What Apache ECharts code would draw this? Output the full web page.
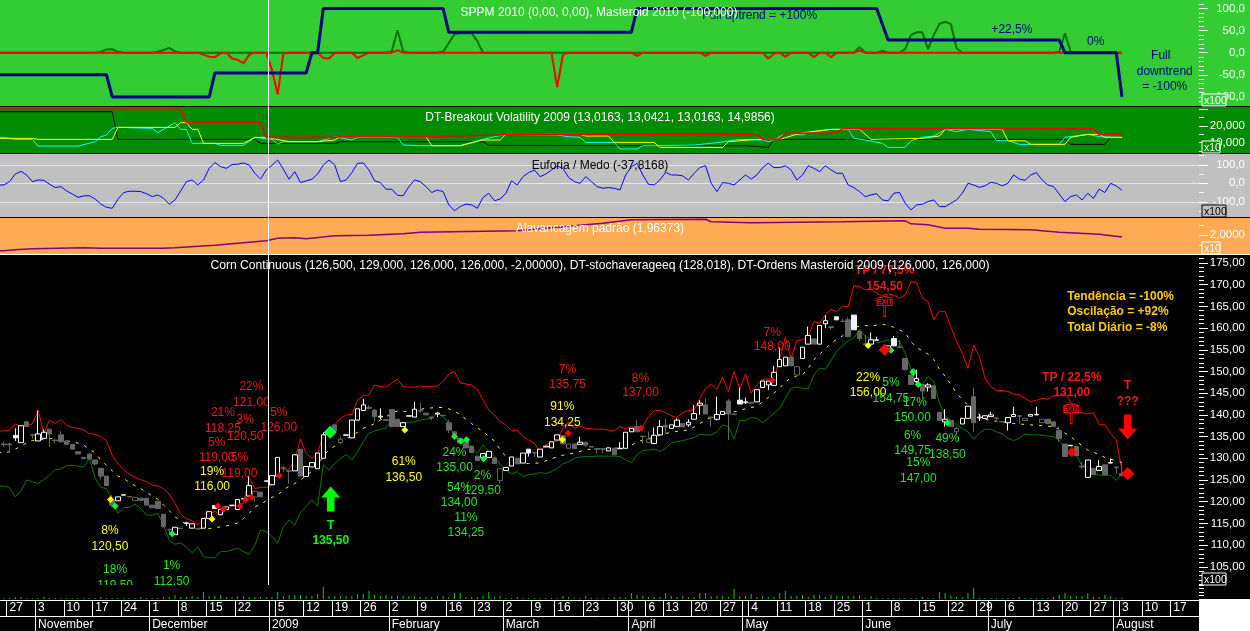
<!DOCTYPE html>
<html><head><meta charset="utf-8">
<style>html,body{margin:0;padding:0;background:#000}#c{width:1250px;height:631px}</style>
<script src="https://cdn.jsdelivr.net/npm/echarts@6/dist/echarts.min.js"></script>
</head><body><div id="c"></div>
<script>
const sessions = Array.from({length:211},(_,i)=>String(i-1));
const weekStarts=[1,6,11,16,21,26,31,36,41,48,53,58,63,68,73,78,83,88,93,97,102,108,113,116,121,126,131,136,141,146,151,156,161,166,171,176,181,186,191,196,200,205];
const weekLabels=['27','3','10','17','24','1','8','15','22','5','12','19','26','2','9','16','23','2','9','16','23','30','6','13','20','27','4','11','18','25','1','8','15','22','29','6','13','20','27','3','10','17'];
const monthStarts=[6,26,47,68,88,110,130,151,173,195];
const monthLabels=['November','December','2009','February','March','April','May','June','July','August'];
const sppmTicks=[-100,-50,0,50,100], sppmMinor=[-110,-90,-80,-70,-60,-40,-30,-20,-10,10,20,30,40,60,70,80,90,110];
const volTicks=[10,20,30], volLabels=[10,20], volMinor=[5,15,25];
const euphTicks=[-100,0,100], euphMinor=[-150,-50,50,150];
const levTicks=[2], levMinor=[1.8,2.2];
const priceTicks=[105,110,115,120,125,130,135,140,145,150,155,160,165,170,175];
const priceMinor=[101,102,103,104,106,107,108,109,111,112,113,114,116,117,118,119,121,122,123,124,126,127,128,129,131,132,133,134,136,137,138,139,141,142,143,144,146,147,148,149,151,152,153,154,156,157,158,159,161,162,163,164,166,167,168,169,171,172,173,174,176];

// [open, close, low, high]; low and high default to the body
const candles=[[133.3,133.1,132.6,133.8],[133.3,133.1,131.5,133.6],[134.7,135.3,134,136.9],[133.6,137.5],[138.4,137.3,137.2,138.6],[135.4,135.3,134.5,135.5],[134,135.6,134,141],[134.6,136,134.5,136.6],[136.7,135.6,132.6,136.8],[134.2,134.1,133.4,134.4],
[135.4,133.8,133.6,136.3],[134,133.2],[133.2,132.1],[131.5,131],[130.2,129.9],[131,129.8],[129.6,128.7,128.3,129.6],[127.7,125.9,125.1,127.7],[125.9,123.7],[120.4,119.2,118.8,121.5],
[120.2,121.1],[121.5,121.6],[121.2,121.1],[120.3,121],[120.8,120.3],[120.8,119.2],[119.2,118.6],[120.1,118.4],[117.1,114.2],[113.6,113.5,112.7,113.8],
[112.4,114.1],[113.9,113.8],[115,115.1,114.4,115.4],[113.9,114.9],[113.8,113.7],[113.9,116.1],[116.1,117.7],[118.4,119.1],[117,118.2],[118.2,118.8],
[119.1,119.2],[118.2,120.5],[120.6,120.7],[121.3,123.7,121.3,125.9],[121.1,122.4,120,122.4],[122.2,121.1],[124.7,124.8],[123.9,126],[125.9,130.2],[127.8,127.7,126.9,128.2],
[127.1,127,124.1,127.1],[127.1,130.8],[132.1,125.9],[125.8,128.1],[128,129],[127.6,131.2],[130,135.4,130,136],[136.1,136.2],[137.7,136.3],[133.6,134.4,133.2,135],
[135.3,135.4],[134.7,138.8],[138.8,141.4],[141,142.3,141,143.6],[141.7,141.5,141.2,142.2],[141.1,139.6,138.5,141.4],[139.5,139.7,139,141.5],[138.9,138.7],[141.2,137.3],[139,137.3],
[137.3,138.2],[139.7,139.8],[139.5,141.3,139.5,143],[141,140.9,140.5,142.7],[140.4,140],[139.5,139.3,138.8,139.5],[140.2,140.4,139.5,140.6],[139.9,139.8],[138.2,136.5,135.8,138.8],[136.1,135.4],
[134.6,133.5],[133.8,132.4],[132.8,131.3],[130.5,129.5],[130.2,131.1],[130.2,131.6],[130.1,128.8],[124.9,127.6,124.2,127.6],[127.2,127.9],[128.2,130.3],
[130,128.7],[128.9,131.2],[131.2,132.1,130.4,132.1],[131.3,131.2,130.3,131.4],[130.3,132.1],[132.6,132.8],[132.4,133.8],[134.2,135.4],[135.2,133.3],[132.3,133.3],
[133.3,132.2],[133.2,133.7,133.2,135],[133.7,133,132.6,133.7],[132.7,132.6],[132.2,132.1,131.1,132.2],[132.2,132.1,131.1,132.2],[131.7,132.4],[132.3,130.8],[132.2,132.3,132.2,133.7],[132.3,136],
[136.1,136.9],[137.3,136.1,136.1,138.8],[135.1,135,133.5,135.1],[133.6,134.4,133.6,136.1],[133.4,135.3,133.4,137.1],[135.4,137.3,135.4,138.8],[137.6,137.2,135.7,139.2],[136.9,137.7],[137.3,138.8,137.3,139.2],[138,137.2],
[137.7,138.3,137.3,139],[139,140.3,139,142.3],[142.2,142.7,140,143.4],[142.3,140.2,140.2,143.8],[139.5,139.3,137.3,139.5],[139,140.1,138.7,144.2],[140.1,140.8],[143.2,140.2,134.2,143.6],[140.2,140.1],[142.5,143.4,142.5,146.3],
[142.8,143,142.5,144],[142.9,142.7],[143,145.8],[146.3,147.8],[146.9,147.8,145.7,147.8],[146.8,149.8,146.8,151.3],[151.1,152.8,151.1,155.5],[151.3,153.3],[153.3,151.3],[149.2,151.1,148.8,151.1],
[153,155.6],[156.3,158.3,156.3,160.3],[157.5,156.3],[156.3,160.6],[161,161.7,160,163],[160.3,160.1,159.6,160.3],[161.9,162.6],[161.6,161.5,161.5,162.2],[161.9,158,158,162.5],[159.6,163],
[159.3,157.6,157,159.3],[156.4,156.2,156.2,158.4],[156.3,157.3,156.3,159],[157.2,157.3,157.2,158],[155.1,155],[155,155.9],[155.9,157.6,155.9,158.2],[155.7,155.5,155.5,157.3],[153,150.4],[149.2,147],
[147.7,148.4,147,150.4],[147,145.5,143.8,147],[146.4,146.9,145.4,147.3],[146.7,143.8],[140.6,138.7],[138.4,139,137.3,141.3],[138.7,137.3],[136.1,136.9,135.4,137.3],[137.9,139.2],[139.2,142],
[144.2,138.2,136.1,146.3],[139.3,139.5,138.6,140.2],[139.2,139.8],[139.6,140,139.6,140.7],[139.3,139.2,138.4,139.3],[138.5,138.4],[138.2,139.4,136.4,139.4],[139.6,140.1,139.6,141.9],[139.8,139.7,137.9,139.8],[138.7,139.2],
[139.7,140.1],[140,140.1,140,141.9],[138.2,139],[139,138],[138.4,137.3],[136.4,134.5,133.8,137.3],[133.3,130.4],[132.9,133],[132.7,130.6],[128.2,128,127.5,129.2],
[125.6,129.6],[127.7,126.2],[127.2,128.1,127.2,129.6],[128.5,126.2],[128.9,129,128.9,130],[128,127.8,126.4,128],[126.5,126,126,129]];
const solidCandles=[2,37,92,129,130,146,149,156,194];
const greyHollowCandles=[23,44,59,87,99,113,139,167,179,182];

const upperBand=[136.3,136.5,137.9,137.3,137.4,137.9,141.1,135.7,138.8,138,139,137.6,137.1,136.9,136.5,135.7,135.5,135,134,130.7,128.8,127.4,126.3,125.6,125.1,124.6,123.8,123.6,123,121.7,119.6,117.1,116.1,115.6,114.6,116.1,117.1,117.8,116.9,118.4,119,119.2,119.6,125.6,123,123.3,123.3,123.8,128,127.5,127.5,129.6,134.4,131.1,130,131.1,135.4,135.8,137.7,139.2,140,140.1,143.4,144.4,144.6,146.9,146.5,146.4,147.4,148.2,146.5,146.4,146.4,146.7,146.5,146.5,146.7,147.7,149.4,150,147.4,147.1,146.9,145.9,143.4,141.1,140,138.4,137.7,136.4,136.5,135,134.2,133.5,131.5,133.1,133.8,134,136.9,138.4,136.9,137.4,136.9,136.8,136.7,136.7,136.5,136.3,137.4,136.7,137.3,137,137.3,139.6,140.9,141.1,140.5,139.8,139.4,140.5,141,141.1,143.8,146.1,147.1,145.9,148.7,145.3,150,145.9,149.4,145,146.9,148.2,148.3,148,153,157.9,153,157.1,157.3,158,161.5,161.1,163,164.3,163.8,165.1,164.9,169.7,169.6,168.8,169,168,167.5,167.9,167.6,166.9,167.6,170.7,170.5,166.9,166.1,162,163.8,163.8,160.3,156.9,154.2,150.7,156.1,153.4,148.4,146.5,145.7,145.6,145.4,144.8,144.6,143.8,143,143.4,143.8,143.6,144.4,144.4,145,143,140.4,140.5,140.2,140.5,137.8,137.7,135.8,134.2,127.3];
const lowerBand=[123.6,123.3,121.1,122.5,125,124.6,124.2,125.1,126.1,127.4,127.5,128.3,128.4,128.2,128,130,125.4,123.3,123,120.4,117.3,118.6,118.7,119.4,118.4,116.9,116.9,117.3,114.6,111.1,110.2,110.5,109.6,108.2,109.6,107.3,107.1,107.1,108.5,108.5,108.9,109.3,108.5,107.9,110,113.5,113.1,112,110.4,114.2,115.8,114.6,117.5,118.9,120.4,119,128.5,127.3,128.8,130,130.8,129.6,131.5,133.8,135.8,136.3,136.7,136.9,139.2,138.2,138.1,138.3,138.4,138.8,139,139.2,140.4,139.6,138.1,135,133.8,133.1,132.3,131.1,133.1,131.5,130.5,128.5,127.3,126.4,126.9,125.8,126.2,126.4,126.7,126.5,126.9,127.7,128.7,129.2,130,130.3,130.4,130.4,130.5,130.5,130.5,130.5,130.4,129.6,129,130.8,131.8,131.9,132.1,131.6,132.3,133.6,133.8,134.1,134.4,134.8,135.5,135.4,135.4,136.1,137.7,137.3,134.4,138.7,138.7,139.4,139.2,138.2,139.2,140.4,141.5,143.8,146.1,146.4,146.1,146,149.2,150.8,150.5,152.5,154.7,155.9,157,157.7,159.7,158,157.6,156.6,156.9,157.3,157.1,156.9,154.2,150.5,146.9,147.1,148.8,147.7,142.7,139.7,138.8,137.7,136.9,136.1,134.4,135.8,136.7,136.7,136.1,135.6,134.6,134.1,134.6,135.6,135.4,135.4,135.3,135.1,135,134.2,132.3,133.1,130.8,128.1,129.2,126.7,126.1,126.1,126.1,124.9,126.4];
const movingAvg=[131.3,131.5,132.1,132.8,133.6,134.1,134.3,134.3,134.5,134.6,134.3,134,133.8,133.5,133,132,131.3,129.6,128.4,127.1,125.9,125.4,124.4,123.7,123,122.2,121.3,120.6,119.2,117.9,116.5,115.6,114.8,114.2,113.9,113.8,113.8,114,114.2,114.4,114.7,115.1,116.1,117.3,118.8,119.4,120.2,121,121.5,122.8,123.5,124.2,125,126,127,128.4,130.5,132,132.8,133.6,134.5,135.2,136,136.9,137.4,138,138.8,139.5,140.5,140.9,140.8,140.8,140.9,141.2,141.6,141.6,141.7,141.7,141.4,140.9,140,139,138,137,136.2,135,134,132,130.4,129.3,129,128.8,128.8,128.8,129,129.4,129.9,130.3,130.7,131,131.2,131.6,132,132.1,132.2,132.2,132.3,132.3,132.4,132.6,133,133.7,134.2,134.5,134.9,135.3,135.7,136,136.2,136.4,136.5,137.2,138,138.8,139.5,140,140.2,140.5,140.7,141,141.4,141.7,142,143,144,145,146.2,147.6,148.5,149,149.2,150.8,152.7,154,155.2,156.6,157.4,158.2,159.2,160,160.5,160.6,160.4,160.7,160.9,160.6,160.2,159.6,158.9,156.9,155.5,154.8,154,152.8,150.5,148.9,147,145,143.6,142.2,141,140,139,138.7,138.5,138.4,138.2,138,137.9,137.8,137.7,137.6,137.5,137.4,137.3,136.6,135.8,135,133.9,132.9,131.9,131.4,130.8,130.2,129.8,129.4,129];
const volume=[1,1,2,2,1,1,1,2,1,1,1,1,1,1,1,1,1,2,1,1,1,1,1,1,2,1,1,1,2,2,4,2,2,3,2,7,3,3,4,2,2,3,3,2,2,2,2,2,7,3,4,4,4,3,3,5,12,3,3,3,3,3,5,5,8,4,3,4,3,3,3,3,3,2,2,2,3,3,2,6,6,2,2,2,3,7,2,3,1,1,2,1,1,1,1,1,1,1,3,2,1,1,3,1,1,1,1,2,2,2,6,4,3,2,2,2,6,3,2,3,2,2,6,6,3,3,3,2,10,3,3,5,2,3,2,2,6,8,3,3,4,2,4,4,2,4,3,3,3,3,4,1,3,1,1,1,1,1,1,1,1,2,1,1,7,6,3,2,2,6,11,1,1,1,1,1,1,1,2,1,1,1,1,1,2,4,6,3,3,3,6,2,2,4,3,1,1];
const euphoria=[-9,9,50,65,45,9,18,16,-5,-23,-18,-41,-58,-76,-68,-67,-85,-112,-130,-135,-86,-50,-43,-43,-45,-56,-72,-63,-81,-113,-90,-41,9,18,-9,18,81,112,90,81,101,103,110,99,54,23,72,97,126,76,22,63,4,13,22,50,99,126,99,9,18,58,108,110,72,13,4,-32,-32,-65,-67,-18,18,9,-18,-50,-36,-45,-117,-148,-126,-112,-117,-135,-76,-54,-94,-85,-54,13,-9,36,58,72,36,50,72,94,81,32,9,0,36,9,-18,-27,-23,-27,-36,45,90,108,45,-5,-9,18,59,45,45,40,18,54,85,95,0,-45,4,0,-9,18,45,23,45,85,108,85,85,95,72,18,45,95,81,63,95,72,54,54,-9,-23,-45,-72,-63,-56,-90,-95,-54,-49,-108,-144,-117,-113,-99,-90,-126,-126,-108,-90,-54,0,-9,-22,-13,5,0,-14,0,45,23,16,45,58,18,-9,-18,-58,-99,-72,-63,-90,-54,-81,-31,-50,0,-14,-37.8];
// turning points as [session, value]
const masteroid=[[0,-50],[18,-50],[19,-100],[36,-100],[37,-46],[53,-46],[54,0],[55,0],[56,100],[77,100],[78,46],[110,46],[111,100],[153,100],[155,28.5],[185,28.5],[186,0],[195,0],[196,-100]];
const sppmRed=[[0,0],[34,0],[35,-5],[36,-9],[37,-10],[38,-1.5],[39,0],[40,-13],[41,-16],[42,-24],[43,-5],[44,0],[46,0],[47,-39],[48,-94],[49,-2],[50,0],[55,0],[56,-12],[57,-13],[58,0],[61,0],[62,-12],[63,-6],[64,0],[68,0],[69,6],[70,0],[96,0],[97,-78],[98,-5],[99,0],[110,0],[111,-7],[112,0],[122,0],[123,-7],[124,0],[133,0],[134,-13],[135,-2],[136,0],[137,-9],[138,0],[141,0],[142,-10],[143,0],[144,0],[145,-10],[146,0],[149,0],[150,5],[151,0],[196,0]];
const sppmGreen=[[0,0],[16,0],[17,2],[18,7],[19,8],[20,2],[21,0],[26,0],[27,2],[28,6],[29,11],[30,3],[31,0],[67,0],[68,3],[69,51],[70,3],[71,0],[76,0],[77,2],[78,22],[79,42],[80,44],[82,44],[83,26],[84,0],[149,0],[150,13],[151,0],[153,0],[154,4],[155,0],[157,0],[158,8],[159,40],[160,46],[161,46],[162,8],[163,40],[164,65],[165,70],[166,65],[167,10],[168,0],[184,0],[185,2],[186,44],[187,2],[188,0],[196,0]];
const volRed=[[0,30],[31,30],[32,22.2],[45,22.2],[46,13.2],[58,13.2],[59,13.6],[73,13.6],[87,14.6],[88,15],[132,15],[133,12],[136,12],[137,15.6],[146,16],[147,18.4],[191,18.4],[192,15],[196,15]];
const volBlack=[[0,28.6],[19,28.6],[20,12],[44,12],[45,9.6],[58,9.6],[59,10.6],[84,10.6],[85,8.4],[130,8.2],[134,7.2],[135,12],[186,12],[187,9],[193,9],[194,13.2],[196,13.2]];
const volYellow=[[0,12.6],[5,12.6],[6,12],[19,12],[20,19.2],[30,19.2],[31,22],[32,22],[33,18],[34,18],[35,9.6],[42,9.6],[44,13.2],[46,13.2],[50,10.6],[55,10.6],[58,11.6],[59,13.6],[74,13.6],[75,8.2],[80,8.2],[84,11.6],[87,11.6],[88,15],[101,15],[102,14],[106,14],[107,10.2],[114,10.2],[115,7.2],[126,7.2],[127,10.6],[132,12],[136,12],[140,16],[145,18],[150,18],[152,12],[161,12.6],[164,14],[165,18],[175,18],[176,11.2],[179,11.2],[180,9],[186,9],[187,13.2],[190,15],[192,15],[193,13.2],[196,13.2]];
const volCyan=[[0,13.2],[2,12],[5,12],[6,8],[13,8],[16,10.6],[17,13.6],[18,14.6],[19,18.6],[20,19.2],[26,18.6],[27,16],[30,22],[31,18],[32,18],[33,9.6],[37,9.6],[38,8.4],[42,8.4],[44,13.2],[47,12],[48,9.2],[49,10.6],[55,10.6],[58,13.6],[61,11.6],[62,13.2],[69,13.2],[70,8.6],[73,8.2],[80,8.2],[83,11.2],[86,13.6],[88,15],[97,14.6],[99,13.6],[101,13.2],[102,10.2],[107,10.2],[108,6.2],[111,6.2],[112,8.2],[114,8.2],[121,8.6],[125,10],[129,12],[133,11.6],[134,10.6],[135,11.6],[137,15.6],[140,14.6],[141,16],[145,18],[148,18],[149,12.6],[151,11.6],[154,9.6],[155,7.2],[158,7.2],[159,11.2],[161,13.2],[163,14],[165,18],[167,16.6],[169,18],[173,16.6],[174,11.2],[176,11.2],[178,9],[185,9],[186,13.2],[190,15],[192,13.6],[196,13.2]];
const leverage=[[0,1.69],[2,1.71],[5,1.73],[14,1.75],[17,1.74],[28,1.74],[30,1.75],[37,1.8],[46,1.89],[48,1.94],[51,1.95],[53,1.93],[58,1.99],[64,2],[70,2.03],[73,2.06],[90,2.09],[105,2.24],[110,2.31],[123,2.32],[124,2.27],[131,2.25],[147,2.27],[158,2.29],[159,2.23],[162,2.21],[165,2.14],[169,2.14],[171,2.12],[180,2.11],[185,2.06],[192,2.02],[196,1.96373]];

// annotation rows: [session position, price, text]
const redNotes=[[43.4,146.5,'22%'],[43.4,142.8,'121,00'],[38.4,140.4,'21%'],[38.4,136.8,'118,25'],[42.3,138.8,'3%'],[42.3,135,'120,50'],[48.2,140.5,'5%'],[48.2,137.1,'126,00'],[37.3,133.7,'5%'],[37.3,130.1,'119,00'],[41.3,130.1,'5%'],[41.3,126.5,'119,00'],[98.8,150.3,'7%'],[98.8,146.9,'135,75'],[111.6,148.4,'8%'],[111.6,145,'137,00'],[134.7,158.9,'7%'],[134.7,155.6,'148,00']];
const redBoldNotes=[[154.4,173.2,'TP / 77,5%'],[154.4,169.5,'154,50'],[187.2,148.6,'TP / 22,5%'],[187.2,145.1,'131,00'],[197,146.7,'T'],[197,143,'???']];
const yellowNotes=[[18.6,113.3,'8%'],[18.6,109.6,'120,50'],[36.5,126.9,'19%'],[36.5,123.5,'116,00'],[70.1,129.2,'61%'],[70.1,125.6,'136,50'],[97.9,141.8,'91%'],[97.9,138.2,'134,25'],[151.5,148.6,'22%'],[151.5,145.1,'156,00']];
const greenNotes=[[19.5,104.4,'18%'],[19.5,100.6,'119,50'],[29.4,105.3,'1%'],[29.4,101.6,'112,50'],[79,131.4,'24%'],[79,127.9,'135,00'],[83.9,126,'2%'],[83.9,122.5,'129,50'],[79.8,123.2,'54%'],[79.8,119.8,'134,00'],[81,116.3,'11%'],[81,112.9,'134,25'],[155.5,147.5,'5%'],[155.5,143.8,'154,75'],[159.7,142.9,'17%'],[159.3,139.4,'150,00'],[159.3,135.2,'6%'],[159.3,131.8,'149,75'],[160.3,129,'15%'],[160.3,125.2,'147,00'],[165.4,134.4,'49%'],[165.4,130.9,'138,50']];
const greenBoldNotes=[[57.3,114.5,'T'],[57.3,110.9,'135,50']];
const trendNotes=[[132.5,83,'Full uptrend = +100%'],[176.7,53,'+22,5%'],[191.4,25,'0%'],[202.8,-7,'Full'],[203.5,-43,'downtrend'],[203.5,-78,'= -100%']];
const summaryNotes=[[186.4,167.2,'Tendência = -100%'],[186.4,163.8,'Oscilação = +92%'],[186.4,160.2,'Total Diário = -8%']];
// signal markers: [session position, price]
const yellowSignals=[[18.7,120.5],[36.5,116],[70.3,136.5],[97.9,134.25],[151.5,156]];
const greenSignals=[[19.5,119],[29.5,112.6],[79,135],[80.1,134],[81.1,134.25],[84.1,129.9],[155.5,154.9],[159.4,150],[159.4,149.75],[160.3,147],[165.4,138.1]];
const redSignals=[[37.5,119],[38.5,118.25],[41.4,119],[42.4,120.5],[43.4,121],[48.3,126],[98.9,135.75],[111.7,137],[134.7,148]];
const bigRedSignals=[[154.4,155,12],[187.2,131.4,10],[197,126.5,13]];
const bigGreenSignals=[[57.2,136,13]];
const upArrow=[[57.3,120.6]], downArrow=[[197,137.2]], exitFlags=[[154.4,165],[187.1,140.3]];

const FONT='"Liberation Sans",Arial,sans-serif';
// one lead-in session sits just off the left edge, so every line reaches the panel border as in the reference
const lead=a=>[a[0],...a];
const leadPairs=a=>[[-1,a[0][1]],...a].map(([i,v])=>[i+1,v]);
const grids=[[0,106],[107,46],[154,63],[218,36],[255,330],[585,14],[600,16],[616,15]].map(([top,height])=>({left:-4.705,width:1203.705,top,height,outerBoundsMode:'none',containLabel:false}));
const hiddenCat=i=>({type:'category',gridIndex:i,data:sessions,show:false});
const comma=d=>v=>(+v).toFixed(d).replace('.',',');
function yAx(i,min,max,ticks,labels,fmt,col,extra){
  return Object.assign({type:'value',gridIndex:i,position:'right',min,max,
    axisLine:{show:false,onZero:false},
    axisTick:{show:true,customValues:ticks,length:9,lineStyle:{color:col||'#fff',width:1}},
    splitLine:{show:false},
    axisLabel:{show:true,customValues:labels,margin:46,align:'right',color:'#fff',fontSize:11.5,fontFamily:FONT,formatter:fmt}},extra||{});
}
function yMinor(i,min,max,ticks,col){
  return {type:'value',gridIndex:i,position:'right',min,max,axisLine:{show:false,onZero:false},
    axisTick:{show:true,customValues:ticks,length:5,lineStyle:{color:col||'#fff',width:1}},splitLine:{show:false},axisLabel:{show:false}};
}
const xAxes=[0,1,2,3,4,5].map(hiddenCat);
xAxes.push({type:'category',gridIndex:6,data:sessions,position:'top',z:10,
  axisLine:{show:true,onZero:false,lineStyle:{color:'#fff',width:1}},axisTick:{show:false},
  splitLine:{show:true,interval:i=>weekStarts.includes(i-1)||monthStarts.includes(i-1),lineStyle:{color:'#fff',width:1}},
  axisLabel:{inside:true,margin:2,color:'#fff',fontSize:12,fontFamily:FONT,align:'left',hideOverlap:false,interval:i=>weekStarts.includes(i-1),formatter:v=>weekLabels[weekStarts.indexOf(+v)]||''}});
xAxes.push({type:'category',gridIndex:7,data:sessions,position:'top',z:10,
  axisLine:{show:true,onZero:false,lineStyle:{color:'#fff',width:1}},axisTick:{show:false},
  splitLine:{show:true,interval:i=>monthStarts.includes(i-1),lineStyle:{color:'#fff',width:1}},
  axisLabel:{inside:true,margin:3,color:'#fff',fontSize:12,fontFamily:FONT,align:'left',hideOverlap:false,interval:i=>monthStarts.includes(i-1),formatter:v=>monthLabels[monthStarts.indexOf(+v)]||''}});
xAxes.push({type:'value',gridIndex:4,min:-1.5,max:209.5,show:false});
xAxes.push({type:'value',gridIndex:0,min:-1.5,max:209.5,show:false});

const yAxes=[
 yAx(0,-120.6,119.2,sppmTicks,sppmTicks,comma(1)),
 yAx(1,3.83,31.4,volTicks,volLabels,comma(3)),
 yAx(2,-182.2,158.4,euphTicks,euphTicks,comma(1),null,{splitLine:{show:true,lineStyle:{color:'#e6e6f5',width:1}}}),
 yAx(3,1.626,2.346,levTicks,levTicks,comma(4)),
 yAx(4,100.8,176.84,priceTicks,priceTicks,comma(2)),
 {type:'value',gridIndex:5,position:'right',min:0,max:14,interval:3.5,axisLine:{show:false,onZero:false},axisTick:{show:true,length:5,lineStyle:{color:'#fff'}},splitLine:{show:false},axisLabel:{show:false}},
 {type:'value',gridIndex:6,show:false},{type:'value',gridIndex:7,show:false},
 yMinor(0,-120.6,119.2,sppmMinor),yMinor(1,3.83,31.4,volMinor),yMinor(2,-182.2,158.4,euphMinor),yMinor(3,1.626,2.346,levMinor),yMinor(4,100.8,176.84,priceMinor),
];
const line=(x,y,data,color,width,z,extra)=>Object.assign({type:'line',xAxisIndex:x,yAxisIndex:y,data,showSymbol:false,symbol:'none',animation:false,silent:true,z,lineStyle:{color,width},connectNulls:true},extra||{});
const notes=(rows,color,weight,x,y,align,z)=>({type:'scatter',xAxisIndex:x,yAxisIndex:y,data:rows,symbolSize:0,silent:true,animation:false,z:z||5,clip:false,itemStyle:{opacity:1},
  label:{show:true,position:'inside',align:align||'center',color,fontWeight:weight,fontSize:12,fontFamily:FONT,formatter:p=>p.data[2]}});
const marks=(rows,color,size,z)=>({type:'scatter',xAxisIndex:8,yAxisIndex:4,data:rows,symbol:'diamond',symbolSize:size,silent:true,animation:false,z:z||4,itemStyle:{color,opacity:1}});
const candleData=candles.map((r,i)=>{
  const o=r[0],c=r[1],l=r.length>2?r[2]:Math.min(o,c),h=r.length>2?r[3]:Math.max(o,c);
  const item={value:[o,c,l,h]};
  if(solidCandles.includes(i)) item.itemStyle={color:'#f0f0ff',borderColor:'#f0f0ff'};
  if(greyHollowCandles.includes(i)) item.itemStyle={color:'#000',borderColor:'#666',color0:'#000',borderColor0:'#666'};
  return item;
});
const series=[
 line(0,0,leadPairs(sppmGreen),'#077007',2,2),
 line(0,0,leadPairs(sppmRed),'#ff0000',2,3),
 line(0,0,leadPairs(masteroid),'#000080',3,4),
 notes(trendNotes,'#000080','normal',9,0),
 line(1,1,leadPairs(volBlack),'#000',1,2),
 line(1,1,leadPairs(volCyan),'#00ffff',1,3),
 line(1,1,leadPairs(volYellow),'#ffff00',1,4),
 line(1,1,leadPairs(volRed),'#ff0000',1.6,5),
 line(2,2,lead(euphoria),'#0000ff',1,3),
 line(3,3,leadPairs(leverage),'#800080',1.5,3),
 line(4,4,lead(lowerBand),'#007a00',1,2),
 line(4,4,lead(upperBand),'#ff0000',1,2),
 line(4,4,lead(movingAvg),'#ffff00',1,2,{lineStyle:{color:'#ffff00',width:1,type:[3,6]}}),
 {type:'candlestick',xAxisIndex:4,yAxisIndex:4,data:[{value:['-','-','-','-']},...candleData],barWidth:5,animation:false,silent:true,z:3,
  itemStyle:{color:'#000',color0:'#666',borderColor:'#fff',borderColor0:'#666',borderWidth:1}},
 marks(yellowSignals,'#ffff00',7),marks(greenSignals,'#00ff33',7),marks(redSignals,'#ff0000',7),
 {type:'scatter',xAxisIndex:8,yAxisIndex:4,data:bigRedSignals,symbol:'diamond',symbolSize:p=>p[2],silent:true,animation:false,z:4,itemStyle:{color:'#ff0000',opacity:1}},
 {type:'scatter',xAxisIndex:8,yAxisIndex:4,data:bigGreenSignals,symbol:'diamond',symbolSize:p=>p[2],silent:true,animation:false,z:4,itemStyle:{color:'#00ff33',opacity:1}},
 {type:'scatter',xAxisIndex:8,yAxisIndex:4,data:upArrow,symbol:'path://M10 0L20 11L14 11L14 25L6 25L6 11L0 11Z',symbolSize:[19,25],silent:true,animation:false,z:4,itemStyle:{color:'#00ff00',opacity:1}},
 {type:'scatter',xAxisIndex:8,yAxisIndex:4,data:downArrow,symbol:'path://M6 0L14 0L14 14L20 14L10 25L0 14L6 14Z',symbolSize:[19,25],silent:true,animation:false,z:4,itemStyle:{color:'#ff0000',opacity:1}},
 {type:'scatter',xAxisIndex:8,yAxisIndex:4,data:exitFlags,symbol:'path://M8 0L16 2L16 9L9 9L9 20L7 20L7 9L0 9L0 2Z',symbolSize:[15,20],silent:true,animation:false,z:4,
  itemStyle:{color:'rgba(0,0,0,0)',borderColor:'#ff0000',borderWidth:1,opacity:1},
  label:{show:true,position:'inside',offset:[0,-4.5],formatter:'EXIT',fontSize:7,fontWeight:'bold',color:'#ff0000',fontFamily:FONT}},
 notes(redNotes,'#f01818','normal',8,4),
 notes(yellowNotes,'#ffff00','normal',8,4),
 notes(greenNotes,'#1fe81f','normal',8,4),
 notes(redBoldNotes,'#f01818','bold',8,4),
 notes(greenBoldNotes,'#00ff00','bold',8,4),
 notes(summaryNotes,'#ffcc00','bold',8,4,'left'),
 {type:'bar',xAxisIndex:5,yAxisIndex:5,data:lead(volume),barWidth:1,animation:false,silent:true,z:9,itemStyle:{color:'#00d000'}},
];
const rect=(x,y,w,h,fill,z)=>({type:'rect',silent:true,z:z||0,shape:{x,y,width:w,height:h},style:{fill}});
const box=(y,w,text,col)=>({type:'group',z:8,silent:true,children:[
  {type:'rect',z:8,shape:{x:1202,y,width:w,height:12},style:{fill:'transparent',stroke:col,lineWidth:1}},
  {type:'text',z:9,x:1204,y:y+2,style:{text,fill:col,font:'10.5px '+FONT}}]});
const boxFill=(y,w,fill)=>rect(1202,y,w,12,fill,7);
const titleRow=(text,top,color,left,size)=>({text,left:left||595,top,textAlign:'center',textStyle:{color,fontWeight:'normal',fontSize:size||12,fontFamily:FONT}});
const option={
 animation:false,backgroundColor:'#000',
 title:[
  titleRow('SPPM 2010 (0,00, 0,00), Masteroid 2010 (-100,000)',2,'#fff',594),
  titleRow('DT-Breakout Volatility 2009 (13,0163, 13,0421, 13,0163, 14,9856)',107,'#fff'),
  titleRow('Euforia / Medo (-37,8168)',155,'#000'),
  titleRow('Alavancagem padrão (1,96373)',218,'#fff'),
  titleRow('Corn Continuous (126,500, 129,000, 126,000, 126,000, -2,00000), DT-stochaverageeq (128,018), DT-Ordens Masteroid 2009 (126,000, 126,000)',255,'#fff',595,12.13),
 ],
 grid:grids,xAxis:xAxes,yAxis:yAxes,series,
 graphic:{elements:[
  rect(0,0,1250,106,'#33cc33'),rect(0,107,1250,46,'#008c00'),rect(0,154,1250,63,'#c0c0c0'),rect(0,218,1250,36,'#ffaa55'),rect(0,254,1250,1,'#ffffff'),
  rect(1200,599,50,32,'#ffffff',6),
  rect(0,585,1199,14,'#000000',6),
  rect(268,0,1,585,'#ffffff',7),
  boxFill(94,24,'#33cc33'),box(94,24,'x100','#fff'),
  boxFill(141,18,'#008c00'),box(141,18,'x10','#fff'),
  boxFill(205,24,'#c0c0c0'),box(205,24,'x100','#000'),
  boxFill(242,18,'#ffaa55'),box(242,18,'x10','#fff'),
  boxFill(573,24,'#000'),box(573,24,'x100','#fff'),
 ]}
};
const chart=echarts.init(document.getElementById('c'),null,{renderer:'canvas',width:1250,height:631});
chart.setOption(option);
</script></body></html>
